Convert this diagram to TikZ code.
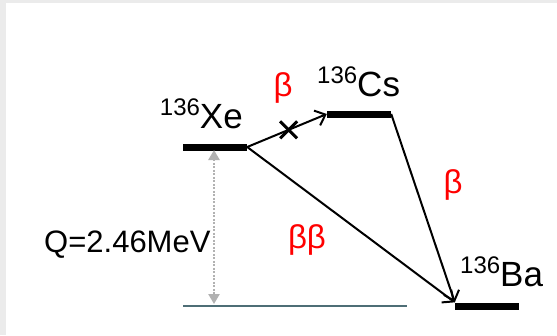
\documentclass[tikz,border=0pt]{standalone}
\usepackage{fontspec}
\setmainfont{Liberation Sans}
\usetikzlibrary{arrows.meta, positioning, shapes.misc}
\definecolor{groundline}{HTML}{4E6E76}
\definecolor{frame}{HTML}{EBEBEB}
\tikzset{
  level/.style={
    rectangle, fill=black, inner sep=0pt,
    minimum width=64pt, minimum height=7pt
  },
  nucl/.style={font=\fontsize{35}{38}\selectfont, inner sep=0pt},
  qval/.style={font=\fontsize{31}{34}\selectfont, inner sep=0pt},
  decay/.style={font=\fontsize{33}{36}\selectfont, text=red, inner sep=0pt},
  arrow/.style={-{Straight Barb[length=9pt, width=16pt]}, line width=2pt, draw=black},
  qarrow/.style={{Triangle[length=10pt, width=11pt]}-{Triangle[length=10pt, width=11pt]},
    line width=2.5pt, draw=black!30, dash pattern=on 2pt off 1.5pt}
}
\newcommand{\iso}[1]{\raisebox{13pt}{\fontsize{24}{26}\selectfont 136}#1}

\begin{document}
\begin{tikzpicture}[x=1pt, y=-1pt]
  \fill[frame] (0,0) rectangle (557,335);
  \fill[white] (6,3) rectangle (557,335);
  \useasboundingbox (0,0) rectangle (557,335);

  % levels
  \node[level] (xe) at (215,147) {};
  \node[level] (cs) at (359,114) {};
  \node[level] (ba) at (487,306) {};
  \coordinate (g0) at (183,306);
  \coordinate (g1) at (407,306);
  \draw[groundline, line width=2pt] (g0) -- (g1);

  % labels
  \node[nucl, anchor=base east] (xelab) at (243,128) {\iso{Xe}};
  \node[nucl, anchor=base west] (cslab) at (317,96) {\iso{Cs}};
  \node[nucl, anchor=base west] (balab) at (460,286) {\iso{Ba}};
  \node[qval, anchor=base west] (qlab) at (44,252) {Q=2.46MeV};

  % Q value
  \coordinate (qtop) at (214,150);
  \coordinate (qbot) at (214,304);
  \draw[qarrow] (qtop) -- (qbot);

  % decays
  \draw[arrow] (xe.east) -- node[pos=0.52, cross out, draw, line width=3pt,
    minimum size=14pt, inner sep=0pt] (veto) {} (cs.west);
  \draw[arrow] (cs.east) -- (ba.north west);
  \draw[arrow] (xe.east) -- (ba.north west);

  \node[decay] (b1) at (283,88) {β};
  \node[decay] (b2) at (453,185) {β};
  \node[decay] (bb) at (307,240) {ββ};
\end{tikzpicture}
\end{document}
